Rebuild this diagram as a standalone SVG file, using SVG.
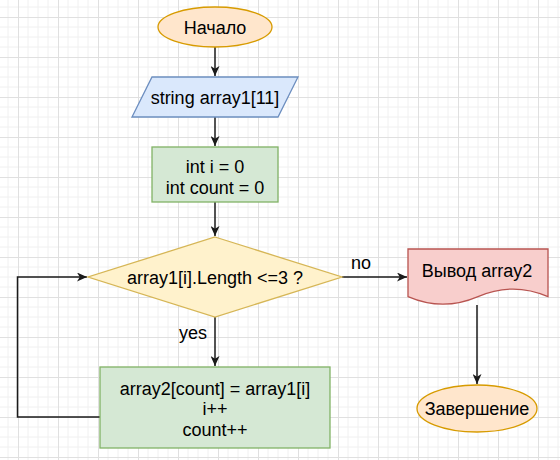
<svg xmlns="http://www.w3.org/2000/svg" width="560" height="460" viewBox="0 0 560 460">
  <defs>
    <pattern id="grid" x="18" y="17" width="40" height="40" patternUnits="userSpaceOnUse">
      <path d="M10,0V40M20,0V40M30,0V40M0,10H40M0,20H40M0,30H40" stroke="#f0f0f0" stroke-width="1" fill="none"/>
      <path d="M0.5,0V40M0,0.5H40" stroke="#e0e0e0" stroke-width="1" fill="none"/>
    </pattern>
    <marker id="arrow" markerUnits="userSpaceOnUse" markerWidth="11" markerHeight="9" refX="10" refY="4.5" orient="auto" viewBox="0 0 11 9">
      <path d="M0,0 L10,4.5 L0,9 L2.8,4.5 Z" fill="#1a1a1a"/>
    </marker>
    <style>
      text { font-family: "Liberation Sans", Arial, Helvetica, sans-serif; font-size: 18px; fill: #000; text-anchor: middle; }
      .edge { fill: none; stroke: #1a1a1a; stroke-width: 1.5; }
      .term { fill: #ffe6cc; stroke: #d79b00; stroke-width: 1.3; }
      .io { fill: #dae8fc; stroke: #6c8ebf; stroke-width: 1.3; }
      .proc { fill: #d5e8d4; stroke: #82b366; stroke-width: 1.3; }
      .dec { fill: #fff2cc; stroke: #d6b656; stroke-width: 1.3; }
      .doc { fill: #f8cecc; stroke: #b85450; stroke-width: 1.3; }
    </style>
  </defs>
  <rect width="560" height="460" fill="#ffffff"/>
  <rect width="560" height="460" fill="url(#grid)"/>

  <g id="connectors">
    <path class="edge" d="M215,47 V76" marker-end="url(#arrow)"/>
    <path class="edge" d="M215,117 V146" marker-end="url(#arrow)"/>
    <path class="edge" d="M215,202 V236" marker-end="url(#arrow)"/>
    <path class="edge" d="M215,317 V366" marker-end="url(#arrow)"/>
    <path class="edge" d="M100,417 H17.5 V277 H87" marker-end="url(#arrow)"/>
    <path class="edge" d="M342,277 H407" marker-end="url(#arrow)"/>
    <path class="edge" d="M477,305 V384" marker-end="url(#arrow)"/>
    <text x="193" y="339">yes</text>
    <text x="361" y="269">no</text>
  </g>

  <g id="start">
    <ellipse class="term" cx="215" cy="27" rx="57" ry="20"/>
    <text x="215" y="33.5">Начало</text>
  </g>

  <g id="input">
    <polygon class="io" points="152,77 298,77 278,117 132,117"/>
    <text x="215" y="103.5">string array1[11]</text>
  </g>

  <g id="init">
    <rect class="proc" x="152" y="147" width="126" height="55"/>
    <text x="215" y="172.5">int i = 0</text>
    <text x="215" y="193.5">int count = 0</text>
  </g>

  <g id="decision">
    <polygon class="dec" points="215,237 342,277 215,317 88,277"/>
    <text x="215" y="283.5">array1[i].Length &lt;=3 ?</text>
  </g>

  <g id="body">
    <rect class="proc" x="100" y="367" width="230" height="81"/>
    <text x="215" y="394.5">array2[count] = array1[i]</text>
    <text x="215" y="415">i++</text>
    <text x="215" y="435.5">count++</text>
  </g>

  <g id="output">
    <path class="doc" d="M408,249 H548 V296.6 Q513,281.5 478,296.6 Q443,311.7 408,296.6 Z"/>
    <text x="477" y="277">Вывод array2</text>
  </g>

  <g id="end">
    <ellipse class="term" cx="477" cy="408.5" rx="60" ry="23.5"/>
    <text x="477" y="414.5">Завершение</text>
  </g>
</svg>
